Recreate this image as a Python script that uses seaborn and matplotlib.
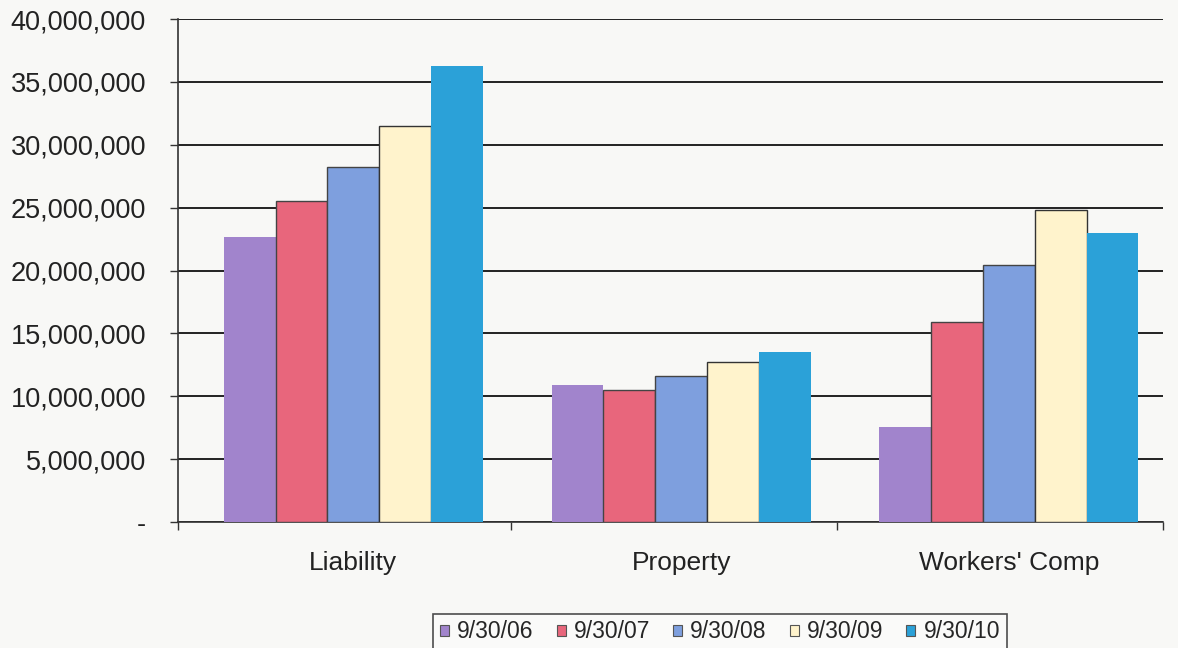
import matplotlib
matplotlib.use("Agg")
import matplotlib.pyplot as plt
import seaborn as sns
import pandas as pd
from matplotlib.ticker import FuncFormatter, FixedLocator

categories = ["Liability", "Property", "Workers' Comp"]
series = ["9/30/06", "9/30/07", "9/30/08", "9/30/09", "9/30/10"]
v_06 = [22700000, 10900000, 7550000]
v_07 = [25500000, 10500000, 15900000]
v_08 = [28200000, 11600000, 20400000]
v_09 = [31500000, 12700000, 24800000]
v_10 = [36300000, 13500000, 23000000]
colors = ["#A184CC", "#E8667C", "#7E9FDE", "#FFF3CC", "#2BA1D8"]

rows = []
for s, vals in zip(series, [v_06, v_07, v_08, v_09, v_10]):
    for c, v in zip(categories, vals):
        rows.append({"cat": c, "date": s, "val": v})
df = pd.DataFrame(rows)

sns.set_theme(style="white")
plt.rcParams['font.family'] = ['Liberation Sans', 'DejaVu Sans']

fig = plt.figure(figsize=(11.78, 6.48), dpi=100)
fig.patch.set_facecolor("#F8F8F6")
ax = fig.add_axes([178/1178, 1 - 522/648, (1163 - 178)/1178, (522 - 19)/648])
ax.set_facecolor("#F8F8F6")

sns.barplot(data=df, x="cat", y="val", hue="date", palette=colors, ax=ax,
            width=0.79, saturation=1, legend=True, zorder=3)

edge = ["none", "#444444", "#444444", "#333333", "none"]
for cont, ec in zip(ax.containers, edge):
    for p in cont.patches:
        p.set_edgecolor(ec)
        p.set_linewidth(1.0)

ax.set_ylim(0, 40000000)
ax.set_xlim(-0.535, 2.47)
ax.set_yticks(range(0, 40000001, 5000000))
ax.yaxis.set_major_formatter(FuncFormatter(lambda v, p: "-" if v == 0 else f"{int(v):,}"))
ax.yaxis.grid(True, color="#222222", linewidth=1.4, zorder=0)
ax.set_axisbelow(True)
for sp in ["top", "right"]:
    ax.spines[sp].set_visible(False)
ax.spines["left"].set_color("#333333")
ax.spines["bottom"].set_color("#333333")
ax.spines["left"].set_linewidth(1.2)
ax.spines["bottom"].set_linewidth(1.2)

ax.tick_params(axis="y", which="major", left=True, length=6, width=1.0, color="#333333",
               labelsize=19.5, labelcolor="#222222", pad=17)
ax.xaxis.set_major_locator(FixedLocator([0, 1, 2]))
ax.set_xticklabels(categories)
ax.tick_params(axis="x", which="major", bottom=False, labelsize=19, labelcolor="#222222", pad=15)
ax.xaxis.set_minor_locator(FixedLocator([-0.535, 0.48, 1.475, 2.47]))
ax.tick_params(axis="x", which="minor", bottom=True, length=6, width=1.0, color="#333333")
ax.set_xlabel("")
ax.set_ylabel("")

handles, labels = ax.get_legend_handles_labels()
ax.get_legend().remove()
for h in handles:
    h.set_edgecolor("#555555")
    h.set_linewidth(0.8)
leg = fig.legend(handles, labels, loc="center", bbox_to_anchor=(720/1178, 1 - 632/648),
                 ncol=5, frameon=True, fontsize=16.5, handlelength=0.4, handleheight=0.4,
                 handletextpad=0.35, columnspacing=1.0, borderpad=0.3)
leg.get_frame().set_edgecolor("#222222")
leg.get_frame().set_linewidth(1.2)
leg.get_frame().set_facecolor("#FBFBFB")
leg.get_frame().set_boxstyle("square", pad=0)

fig.savefig("out.png", dpi=100, facecolor=fig.get_facecolor())
